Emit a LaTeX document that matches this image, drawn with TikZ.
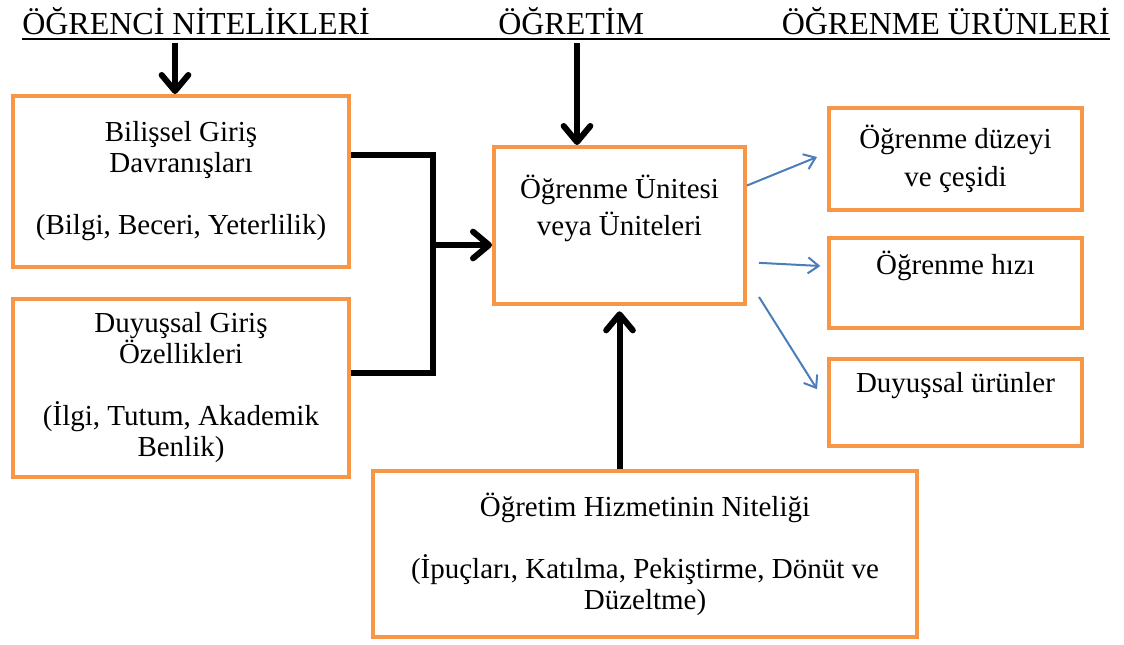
\documentclass[tikz,border=0pt]{standalone}
\usepackage{fontspec}
\setmainfont{Liberation Serif}
\usetikzlibrary{arrows.meta,calc}
\definecolor{turuncu}{RGB}{247,150,70}
\definecolor{okmavi}{RGB}{74,126,187}
\newcommand\kutuyazi{\fontsize{21.75}{23.25}\selectfont}
\tikzset{
  kutu/.style={draw=turuncu,line width=3pt,align=center,inner sep=0pt,font=\kutuyazi},
  baslik/.style={inner sep=0pt,font=\fontsize{24}{28}\selectfont},
  kalin/.style={line width=4.5pt,-{Straight Barb[length=12pt,width=20pt,round]}},
  kose/.style={line width=4.5pt},
  ince/.style={okmavi,line width=1.5pt,-{Straight Barb[length=8pt,width=12pt]}},
}

\begin{document}
\begin{tikzpicture}[x=0.75pt,y=-0.75pt]
  \useasboundingbox (0,0) rectangle (1124,644);
  % basliklar
  \node[baslik,anchor=base west] (b1) at (22,34) {ÖĞRENCİ NİTELİKLERİ};
  \node[baslik,anchor=base west] (b2) at (498,34) {ÖĞRETİM};
  \node[baslik,anchor=base east] (b3) at (1110,34) {ÖĞRENME ÜRÜNLERİ};
  \draw[line width=1.5pt] ([yshift=-3.5pt]b1.base west) -- ([yshift=-3.5pt]b3.base east);
  % kutular
  \node[kutu,minimum width=252pt,minimum height=128.25pt] (bil) at (181,181.5)
    {Bilişsel Giriş\\Davranışları\\[23.25pt](Bilgi, Beceri, Yeterlilik)};
  \node[kutu,minimum width=252pt,minimum height=133.5pt] (duy) at (181,388)
    {Duyuşsal Giriş\\Özellikleri\\[23.25pt](İlgi, Tutum, Akademik\\Benlik)};
  \node[kutu,minimum width=188.25pt,minimum height=117.75pt] (ctr) at (619.5,225.5)
    {Öğrenme Ünitesi\\[5pt]veya Üniteleri\\\strut};
  \node[kutu,minimum width=189.75pt,minimum height=76.5pt] (r1) at (955.5,159)
    {Öğrenme düzeyi\\[5pt]ve çeşidi};
  \node[kutu,minimum width=189.75pt,minimum height=67.5pt] (r2) at (955.5,283)
    {Öğrenme hızı\\\strut};
  \node[kutu,minimum width=189.75pt,minimum height=65.25pt] (r3) at (955.5,402.5)
    {Duyuşsal ürünler\\\strut};
  \node[kutu,minimum width=408pt,minimum height=124.5pt] (bot) at (645,554)
    {Öğretim Hizmetinin Niteliği\\[23.25pt](İpuçları, Katılma, Pekiştirme, Dönüt ve\\Düzeltme)};
  % oklar
  \coordinate (u1) at (175,43);
  \coordinate (u2) at (577,43);
  \coordinate (dugum) at (433,245);
  \draw[kalin] (u1) -- (u1 |- bil.north);
  \draw[kalin] (u2) -- (u2 |- ctr.north);
  \draw[kose] ([yshift=20pt]bil.east) -| (dugum) |- ([yshift=11.6pt]duy.east);
  \draw[kalin] (dugum) -- (ctr.west |- dugum);
  \draw[kalin] (bot.north -| ctr.south) -- ([yshift=-4pt]ctr.south);
  \draw[ince] ([yshift=30pt]ctr.east) -- ([xshift=-7.5pt,yshift=1.5pt]r1.west);
  \draw[ince] ([xshift=9pt,yshift=-28pt]ctr.east) -- ([xshift=-5pt,yshift=12.75pt]r2.west);
  \draw[ince] ([xshift=9pt,yshift=-53.6pt]ctr.east) -- ([xshift=-7.5pt,yshift=10pt]r3.west);
\end{tikzpicture}
\end{document}
